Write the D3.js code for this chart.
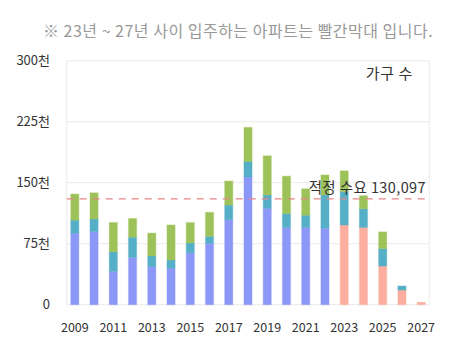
<!DOCTYPE html>
<html><head><meta charset="utf-8">
<script src="https://cdn.jsdelivr.net/npm/d3@7"></script>
<style>
html,body{margin:0;padding:0;background:#fff;}
svg{display:block;font-family:"Noto Sans CJK KR","Noto Sans",sans-serif;}
</style></head>
<body>
<svg id="c" width="457" height="350"></svg>
<script>
const years = [2009,2010,2011,2012,2013,2014,2015,2016,2017,2018,2019,2020,2021,2022,2023,2024,2025,2026,2027];
// thousands of households
const baseVals  = [88,90,41,58,47,45,64,75.5,104.5,157,118.5,95,95,94,98,95,47.5,18,3];
const tealVals  = [16,15.5,24,25,13,10,12,8.5,18,19,16.5,17,15,41,41,23,21.5,5,0];
const greenVals = [32,32,36,23,28,43,25,29.5,29.5,42,48,46,32.5,24.5,25.5,16,20.5,0,0];
const futureFrom = 2023;
const yTicks = [0,75,150,225,300];
const yTickLabels = ["0","75천","150천","225천","300천"];
const xTickYears = [2009,2011,2013,2015,2017,2019,2021,2023,2025,2027];
const demand = 130.097;
const demandLabel = "적정 수요 130,097";
const title = "※ 23년 ~ 27년 사이 입주하는 아파트는 빨간막대 입니다.";
const unitLabel = "가구 수";

const svg = d3.select("#c");
const L = 66.7, R = 429.3, T = 60.7, B = 304.7;

const x = d3.scaleBand().domain(years).range([65.2, 430.8]).paddingInner(0.58).paddingOuter(0.29);
const y = d3.scaleLinear().domain([0,300]).range([B, T]);

// title
svg.append("text").attr("x", 43).attr("y", 37).attr("fill", "#999")
  .style("font-size", "16px").style("letter-spacing", "0.5px").text(title);

// grid
svg.append("g").selectAll("line").data(yTicks).join("line")
  .attr("x1", L).attr("x2", R).attr("y1", d => y(d)).attr("y2", d => y(d))
  .attr("stroke", "#eeeeee").attr("stroke-width", 1.2);
svg.append("line").attr("x1", L).attr("x2", L).attr("y1", T).attr("y2", B).attr("stroke", "#eeeeee").attr("stroke-width", 1.2);
svg.append("line").attr("x1", R).attr("x2", R).attr("y1", T).attr("y2", B).attr("stroke", "#eeeeee").attr("stroke-width", 1.2);

// y labels
svg.append("g").selectAll("text").data(yTicks).join("text")
  .attr("x", 50).attr("y", d => y(d) + 4.5).attr("text-anchor", "end")
  .attr("fill", "#333").style("font-size", "13px")
  .text((d, i) => yTickLabels[i]);

// x labels
svg.append("g").selectAll("text").data(xTickYears).join("text")
  .attr("x", d => x(d) + x.bandwidth()/2).attr("y", 332).attr("text-anchor", "middle")
  .attr("fill", "#333").style("font-size", "12.5px").text(d => d);

// stacked bars
const rows = years.map((yr, i) => ({year: yr, base: baseVals[i], teal: tealVals[i], green: greenVals[i]}));
const stack = d3.stack().keys(["base","teal","green"])(rows);
const colorFor = (key, yr) => key === "base" ? (yr >= futureFrom ? "#fdae9f" : "#8c98f8") : key === "teal" ? "#55afc7" : "#9ec25a";
const g = svg.append("g");
stack.forEach(layer => {
  g.selectAll(null).data(layer.filter(d => d[1] - d[0] > 0)).join("rect")
    .attr("x", d => x(d.data.year))
    .attr("width", x.bandwidth())
    .attr("y", d => y(d[1]))
    .attr("height", d => y(d[0]) - y(d[1]))
    .attr("fill", d => colorFor(layer.key, d.data.year))
    .attr("stroke", d => colorFor(layer.key, d.data.year))
    .attr("stroke-opacity", 0.35)
    .attr("stroke-width", 1.2);
});

// demand line
svg.append("line").attr("x1", L).attr("x2", R).attr("y1", y(demand)).attr("y2", y(demand))
  .attr("stroke", "#e88585").attr("stroke-width", 1.3).attr("stroke-dasharray", "7,6");
svg.append("text").attr("x", 426).attr("y", 192.5).attr("text-anchor", "end")
  .attr("fill", "#333").style("font-size", "14.5px").style("letter-spacing", "0.4px").text(demandLabel);

// unit label
svg.append("text").attr("x", 413).attr("y", 79).attr("text-anchor", "end")
  .attr("fill", "#333").style("font-size", "15px").style("letter-spacing", "0.6px").text(unitLabel);
</script>
</body></html>
